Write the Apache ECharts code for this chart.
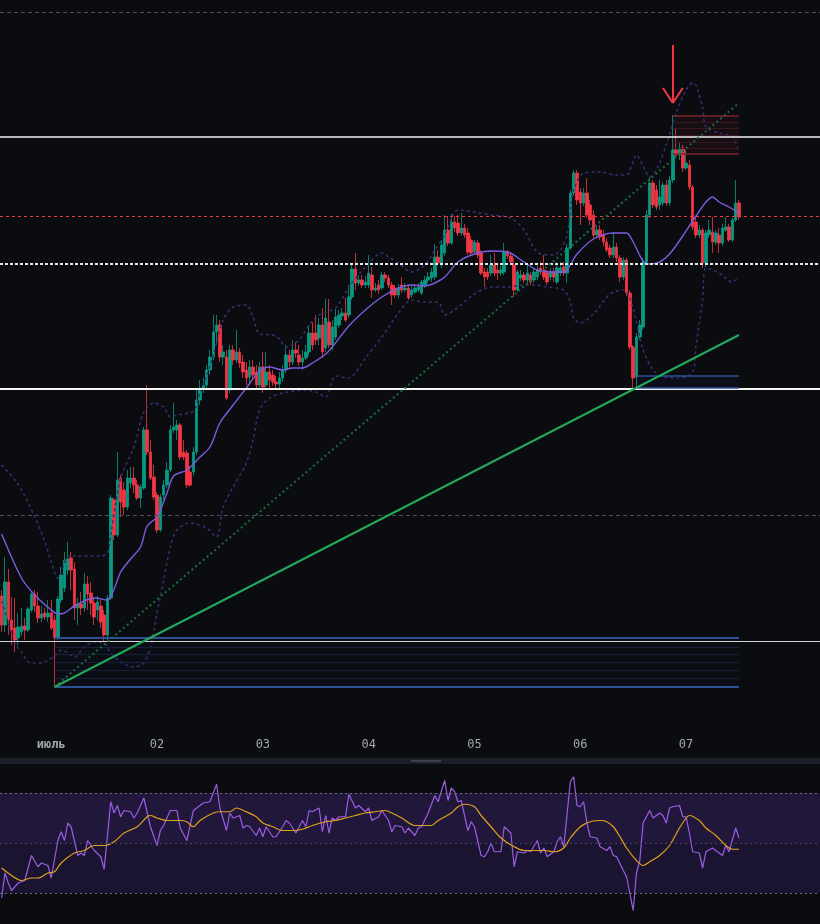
<!DOCTYPE html>
<html><head><meta charset="utf-8">
<script src="https://cdn.jsdelivr.net/npm/echarts/dist/echarts.min.js"></script>
<style>html,body{margin:0;padding:0;background:#0b0c10;}#c{width:820px;height:924px;}</style>
</head><body><div id="c"></div>
<script>
// ---- tick labels (time axis) ----
const tickIdx = [15, 47, 79, 111, 143, 175, 207];
const tickLabels = ['июль', '02', '03', '04', '05', '06', '07'];

// ---- candles (45m bars) ----
const opens = [104,75,118,80,72,62,68,74,70,90,106,94,82,87,83,87,80,62,100,112,130,142,131,92,96,92,116,107,97,90,94,85,65,102,200,165,222,210,193,217,222,215,202,212,270,248,223,205,170,205,215,230,270,270,275,248,247,228,228,248,300,312,315,330,343,368,375,343,343,310,350,340,348,338,330,323,333,328,315,333,315,328,325,318,316,322,330,345,338,350,345,338,342,348,367,367,362,375,352,378,355,363,375,384,387,385,403,431,417,420,415,415,425,410,415,412,425,422,415,412,405,415,410,412,405,408,410,407,415,420,422,423,443,435,447,470,457,478,477,467,472,467,460,448,457,447,428,428,427,435,430,427,428,448,444,435,410,422,425,420,425,420,423,432,430,427,423,428,418,427,433,427,452,507,527,508,497,507,495,485,465,470,465,458,452,445,453,442,423,440,407,353,323,363,373,438,485,517,510,495,497,515,497,520,550,545,552,532,535,513,478,465,470,437,465,468,458,465,457,470,473,460,480,497];
const closes = [75,118,80,70,60,73,74,70,91,106,94,82,86,83,87,72,62,101,125,140,141,130,92,96,92,116,106,97,83,98,78,65,102,202,165,220,198,193,222,222,215,202,213,270,248,222,203,170,203,215,230,270,273,275,243,243,215,215,248,300,312,315,330,343,368,375,343,348,302,350,340,348,337,328,322,333,325,315,333,313,328,320,318,316,322,330,345,338,350,347,338,342,348,367,355,360,375,348,382,355,373,383,385,387,380,403,431,417,420,415,418,427,410,412,410,425,422,415,405,405,412,410,412,402,410,412,413,418,420,423,428,443,437,455,470,457,478,472,467,472,465,448,447,458,445,427,423,423,435,427,427,430,448,444,438,410,428,425,420,427,418,428,430,428,423,418,428,423,432,432,427,452,507,527,500,497,507,485,480,465,470,463,458,450,445,453,442,423,440,407,353,322,363,375,438,485,517,495,493,503,515,497,520,550,545,552,532,537,513,473,465,470,437,467,470,458,467,457,472,473,460,480,497,483];
const highs = [110,143,131,103,102,87,92,82,93,108,110,108,94,92,100,100,85,104,133,148,158,148,138,102,108,127,124,118,102,104,100,90,105,205,202,248,225,218,230,233,233,220,216,273,315,260,235,208,206,220,238,275,297,280,277,260,250,234,253,310,320,322,335,350,385,385,380,355,350,355,355,370,352,345,338,340,340,335,338,348,348,335,330,324,328,335,355,350,360,358,355,350,355,375,378,385,382,392,401,401,380,391,390,392,402,415,435,447,425,425,424,445,433,417,420,428,428,425,418,415,416,423,417,415,414,416,417,420,424,428,432,456,450,460,485,484,486,484,485,487,476,472,464,460,460,450,432,432,445,447,435,434,457,450,448,442,430,430,428,437,428,432,434,438,445,430,432,432,438,438,438,456,510,530,530,512,512,522,500,490,474,475,470,462,455,468,457,445,443,442,410,355,367,380,442,490,523,520,515,520,518,520,524,585,572,557,555,550,540,515,482,475,472,470,480,483,470,472,476,483,476,482,520,500];
const lows = [68,68,65,55,48,55,64,60,68,88,88,77,78,80,78,70,13,60,97,108,125,110,80,75,85,88,90,85,75,80,72,58,60,100,160,163,183,185,190,212,207,200,192,210,245,220,200,167,168,200,212,228,267,260,240,240,212,213,224,245,295,307,312,325,340,355,338,335,300,307,335,337,332,322,315,318,320,310,312,307,312,312,314,311,312,318,327,332,335,342,334,330,340,344,350,355,355,342,348,352,350,360,372,380,378,382,400,410,414,412,412,412,402,408,406,410,418,412,395,402,402,407,408,400,402,406,408,405,412,417,418,420,435,432,444,454,455,468,464,464,462,445,444,445,442,425,413,420,424,424,420,424,425,441,435,403,408,419,417,417,415,417,420,425,420,415,420,418,416,424,424,417,450,504,495,475,494,482,475,462,462,460,454,448,442,442,438,418,420,404,350,312,312,360,370,435,482,492,490,490,494,494,494,517,542,540,528,530,510,470,462,462,432,433,462,447,455,447,454,468,458,458,478,480];

// ---- Bollinger bands: [bar index, value] ----
const bbMid = [[0,166],[6,122],[10,105],[15,90],[17,86],[19,87],[22,94],[28,102],[32,100],[34,111],[36,128],[39,141],[42,153],[44,174],[47,183],[50,207],[52,224],[56,230],[60,243],[63,253],[66,277],[70,295],[74,312],[78,329],[81,333],[85,330],[88,332],[91,332],[94,337],[98,346],[100,353],[105,374],[110,390],[115,403],[120,412],[124,415],[128,414],[131,417],[134,423],[138,438],[143,446],[148,449],[153,448],[158,438],[162,430],[167,428],[170,428],[174,446],[179,461],[185,467],[189,467],[191,458],[194,439],[196,436],[199,438],[202,446],[206,464],[210,484],[213,498],[215,503],[217,498],[220,493],[223,487]];
const bbUp = [[0,235],[4,220],[7,204],[10,183],[13,159],[15,138],[17,122],[18,128],[20,143],[22,144],[30,144],[32,147],[33,165],[36,222],[40,253],[43,288],[46,297],[49,293],[51,283],[53,285],[58,289],[60,307],[62,324],[64,345],[67,380],[70,393],[74,395],[76,383],[78,366],[82,365],[84,361],[86,353],[90,360],[93,375],[96,385],[101,392],[105,413],[110,433],[115,447],[117,443],[120,437],[124,428],[128,435],[131,450],[134,465],[138,490],[143,488],[148,485],[154,482],[158,470],[162,448],[167,445],[169,450],[171,465],[172,490],[173,510],[176,527],[181,528],[186,525],[189,525],[192,545],[194,534],[196,523],[198,530],[201,555],[204,587],[207,610],[209,617],[210,615],[212,592],[213,573],[217,567],[221,563],[223,548]];
const bbLow = [[0,99],[4,57],[6,48],[8,38],[10,37],[13,38],[16,44],[18,50],[20,47],[22,43],[25,53],[28,58],[31,57],[33,47],[36,38],[40,33],[43,37],[45,53],[47,87],[49,120],[51,153],[53,170],[57,177],[62,172],[65,163],[67,193],[70,213],[74,237],[76,260],[78,290],[81,302],[85,307],[92,310],[95,308],[98,303],[101,324],[105,322],[110,342],[115,363],[120,387],[124,400],[128,398],[132,398],[134,385],[137,390],[143,406],[148,413],[153,413],[158,415],[162,415],[165,413],[170,410],[172,398],[173,382],[175,377],[179,386],[184,406],[188,410],[190,402],[192,378],[194,350],[197,330],[200,323],[205,322],[209,328],[210,355],[212,400],[213,432],[217,427],[221,418],[223,423]];

// ---- RSI and its MA: [bar index, value] ----
const rsi = [[0,28],[1,38],[2,34],[3,31],[5,34],[7,35],[9,45],[11,40.5],[12,42],[14,41],[15,36],[17,51],[18,54.5],[19,51],[20,58],[21,56.5],[23,45],[24,46],[25,45],[26,51],[28,47],[30,44.5],[31,39.5],[33,66.5],[34,62],[35,65],[36,60.5],[37,63],[39,62.5],[40,60],[41,62],[43,68],[45,56.5],[47,49],[48,55],[49,57],[51,63],[53,63],[54,56],[56,51],[58,63],[61,66],[63,66.5],[65,73.5],[66,64],[68,55],[69,62],[70,60],[72,61],[73,56],[74,57],[75,56.5],[77,53],[78,56],[79,52.5],[80,56.5],[82,52.5],[83,52.5],[85,56.5],[86,59],[87,58],[89,54],[91,59],[92,56.5],[93,63],[94,62.5],[96,64],[97,54.5],[98,61],[99,54],[100,60],[101,59],[102,60.5],[104,60.5],[105,69.5],[107,64],[108,65],[110,62.5],[111,64],[112,59],[114,60.5],[115,63],[117,59],[118,54.5],[119,57],[121,56.5],[122,54],[123,56],[125,53],[126,56],[127,56.5],[129,62],[131,69],[132,66.5],[134,75],[135,67],[136,72],[137,70.5],[138,66.5],[139,67],[141,55],[142,58.5],[143,56.5],[145,45],[146,44.5],[147,46.5],[148,50],[149,46.5],[151,46.5],[152,56.5],[154,54],[155,40.5],[156,46.5],[158,46],[159,47],[160,46.5],[162,51],[163,46],[164,48],[165,44.5],[167,46.5],[168,50.5],[169,52.5],[170,48.5],[172,74.5],[173,76.5],[174,65],[175,64.5],[176,66.5],[177,58],[178,52.5],[180,52],[181,48.5],[183,47],[184,48.5],[185,45],[186,44.5],[188,39],[189,36.5],[191,23],[192,38],[193,43],[194,58],[196,63],[197,60],[199,62],[200,61],[201,58],[202,64],[203,64.5],[205,65],[206,60.5],[207,60.5],[208,54],[209,46.5],[211,46],[212,40],[213,46.5],[215,48],[217,46],[218,45],[219,49],[220,46.5],[222,56],[223,52]];
const rsiMa = [[0,40],[3,37],[6,35],[9,36],[11,36],[14,38],[16,38.5],[18,42],[22,46],[25,47],[28,49],[31,49],[34,50.5],[37,54],[41,56.5],[44,60.5],[45,61],[47,60],[50,59],[54,59],[56,58.5],[58,56.5],[60,59],[64,62],[66,62.5],[69,62.5],[71,64],[74,62.5],[77,60.5],[79,58],[82,56.5],[85,55],[88,55],[91,55.5],[94,57],[98,58.5],[101,59],[104,60],[107,61],[110,62],[113,62.5],[116,63],[118,62],[121,60],[125,57],[128,57],[130,57],[132,59],[136,62],[138,64.5],[140,65.5],[143,64.5],[145,61],[148,56.5],[151,52],[155,48.5],[158,47],[161,47],[164,47],[167,46.5],[170,48],[172,52],[175,56.5],[178,58.5],[181,59],[183,58.5],[185,56.5],[187,52.5],[189,48],[192,43],[194,41],[196,42.5],[199,45],[202,49],[205,56],[207,60],[208,61],[211,59],[213,56],[216,53],[219,49],[221,47.5],[223,47.5]];
const rsiLevels = [70, 50, 30];

// ---- drawings (price levels / anchor points) ----
const hGrayLevels = [688, 185];
const hWhiteLevels = [563, 311, 59];
const hRedDashed = [484];
const hWhiteDashed = [436];
const trendSolid = [[16, 13], [223, 365]];
const trendDotted = [[16, 13], [223, 597]];
const arrowTop = [203, 655], arrowTip = [203, 597], arrowL = [200, 612], arrowR = [206, 612];
const blueBoxRange = [16, 223], blueBoxLevels = [62, 53, 46, 38, 30, 22, 13];
const redBoxRange = [203, 223], redBoxLevels = [584, 578, 572, 565, 558, 552, 546];
const lowBoxRange = [192, 223], lowBoxLevels = [324, 312];

// categories (45 minute bars, with empty space to the right)
const TOTAL = 248;
const cats = [];
const t0 = Date.UTC(2025, 5, 30, 12, 45);
for (let i = 0; i < TOTAL; i++) {
  const d = new Date(t0 + i * 45 * 60000);
  cats.push((d.getUTCMonth()+1) + '-' + d.getUTCDate() + ' ' + d.getUTCHours() + ':' + String(d.getUTCMinutes()).padStart(2,'0'));
}

const candles = opens.map((o, i) => [o, closes[i], lows[i], highs[i]]);

const mk = [];
const seg = (a, b, style) => mk.push([{coord: a, lineStyle: style}, {coord: b}]);
hGrayLevels.forEach(v => mk.push({yAxis: v, lineStyle: {color: '#4b4e58', width: 1, type: [4, 3]}}));
mk.push({yAxis: hWhiteLevels[0], lineStyle: {color: '#f0f0f0', width: 1.5, type: 'solid'}});
mk.push({yAxis: hWhiteLevels[1], lineStyle: {color: '#f5f5f5', width: 2, type: 'solid'}});
mk.push({yAxis: hWhiteLevels[2], lineStyle: {color: '#d0d2d8', width: 1, type: 'solid'}});
hRedDashed.forEach(v => mk.push({yAxis: v, lineStyle: {color: '#f23645', width: 1, type: [3, 3]}}));
hWhiteDashed.forEach(v => mk.push({yAxis: v, lineStyle: {color: '#e6e6e6', width: 2, type: [3, 2]}}));
blueBoxLevels.forEach((v, k) => {
  const edge = (k === 0 || k === blueBoxLevels.length - 1);
  seg([blueBoxRange[0], v], [blueBoxRange[1], v], {color: edge ? '#2c5293' : '#16203a', width: edge ? 2 : 1, type: 'solid'});
});
redBoxLevels.forEach((v, k) => {
  const edge = (k === 0 || k === redBoxLevels.length - 1);
  seg([redBoxRange[0], v], [redBoxRange[1], v], {color: edge ? '#7a2531' : '#3a171f', width: edge ? 1.5 : 1, type: 'solid'});
});
lowBoxLevels.forEach(v => seg([lowBoxRange[0], v], [lowBoxRange[1], v], {color: '#2c5293', width: 1.5, type: 'solid'}));
seg(trendDotted[0], trendDotted[1], {color: '#1f6b40', width: 2, type: [2, 3]});
seg(trendSolid[0], trendSolid[1], {color: '#23a85b', width: 2, type: 'solid'});
seg(arrowTop, arrowTip, {color: '#f23645', width: 2, type: 'solid'});
seg(arrowL, arrowTip, {color: '#f23645', width: 2, type: 'solid'});
seg(arrowR, arrowTip, {color: '#f23645', width: 2, type: 'solid'});

const areas = [
  [{coord: [blueBoxRange[0], blueBoxLevels[0]], itemStyle: {color: 'rgba(41,98,255,0.025)'}}, {coord: [blueBoxRange[1], blueBoxLevels[blueBoxLevels.length-1]]}],
  [{coord: [redBoxRange[0], redBoxLevels[0]], itemStyle: {color: 'rgba(242,54,69,0.05)'}}, {coord: [redBoxRange[1], redBoxLevels[redBoxLevels.length-1]]}],
  [{coord: [lowBoxRange[0], lowBoxLevels[0]], itemStyle: {color: 'rgba(41,98,255,0.04)'}}, {coord: [lowBoxRange[1], lowBoxLevels[1]]}]
];

const chart = echarts.init(document.getElementById('c'));
chart.setOption({
  animation: false,
  backgroundColor: '#0b0c10',
  graphic: [
    {type: 'rect', shape: {x: 0, y: 758, width: 820, height: 6}, style: {fill: '#1c1f27'}, z: 10},
    {type: 'rect', shape: {x: 411, y: 760, width: 30, height: 2}, style: {fill: '#3d404b'}, z: 11}
  ],
  grid: [
    {left: 0, right: 0, top: 0, height: 730},
    {left: 0, right: 0, top: 766, height: 158}
  ],
  xAxis: [
    {type: 'category', data: cats, gridIndex: 0, boundaryGap: true,
     axisLine: {show: false}, axisTick: {show: false}, splitLine: {show: false},
     axisLabel: {
       interval: (idx) => tickIdx.indexOf(idx) >= 0,
       formatter: (v, idx) => { const k = tickIdx.indexOf(idx); if (k < 0) return ''; return k === 0 ? '{m|' + tickLabels[k] + '}' : tickLabels[k]; },
       color: '#a3a6af', fontSize: 12, fontFamily: 'DejaVu Sans Mono', margin: 9,
       rich: {m: {fontWeight: 'bold', color: '#a3a6af', fontSize: 12, fontFamily: 'DejaVu Sans Mono'}}
     }},
    {type: 'category', data: cats, gridIndex: 1, boundaryGap: true, show: false}
  ],
  yAxis: [
    {type: 'value', gridIndex: 0, min: -30, max: 700, show: false, splitLine: {show: false}},
    {type: 'value', gridIndex: 1, min: 17.6, max: 80.8, show: false, splitLine: {show: false}}
  ],
  series: [
    {type: 'candlestick', xAxisIndex: 0, yAxisIndex: 0, data: candles, barWidth: 3,
     itemStyle: {color: '#089981', color0: '#f23645', borderColor: '#089981', borderColor0: '#f23645', borderWidth: 0.8}},
    {type: 'line', xAxisIndex: 0, yAxisIndex: 0, data: bbUp, showSymbol: false, smooth: 0.3,
     lineStyle: {color: '#3a2e70', width: 1.5, type: [3, 3]}},
    {type: 'line', xAxisIndex: 0, yAxisIndex: 0, data: bbLow, showSymbol: false, smooth: 0.3,
     lineStyle: {color: '#3a2e70', width: 1.5, type: [3, 3]}},
    {type: 'line', xAxisIndex: 0, yAxisIndex: 0, data: bbMid, showSymbol: false, smooth: 0.3,
     lineStyle: {color: '#7b5ce0', width: 1.4},
     markLine: {silent: true, symbol: ['none', 'none'], label: {show: false}, data: mk},
     markArea: {silent: true, data: areas}},
    {type: 'line', xAxisIndex: 1, yAxisIndex: 1, data: rsi, showSymbol: false,
     lineStyle: {color: '#9b5de5', width: 1.2},
     markArea: {silent: true, data: [
       [{yAxis: 50, itemStyle: {color: '#20173a'}}, {yAxis: 70}],
       [{yAxis: 30, itemStyle: {color: '#1a1430'}}, {yAxis: 50}]
     ]},
     markLine: {silent: true, symbol: ['none', 'none'], label: {show: false}, data: [
       {yAxis: rsiLevels[0], lineStyle: {color: '#6e6f7c', width: 1, type: [2, 3]}},
       {yAxis: rsiLevels[1], lineStyle: {color: '#4a4560', width: 1, type: [2, 3]}},
       {yAxis: rsiLevels[2], lineStyle: {color: '#6e6f7c', width: 1, type: [2, 3]}}
     ]}},
    {type: 'line', xAxisIndex: 1, yAxisIndex: 1, data: rsiMa, showSymbol: false, smooth: 0.3,
     lineStyle: {color: '#e0a21a', width: 1.2}}
  ]
});
</script></body></html>
